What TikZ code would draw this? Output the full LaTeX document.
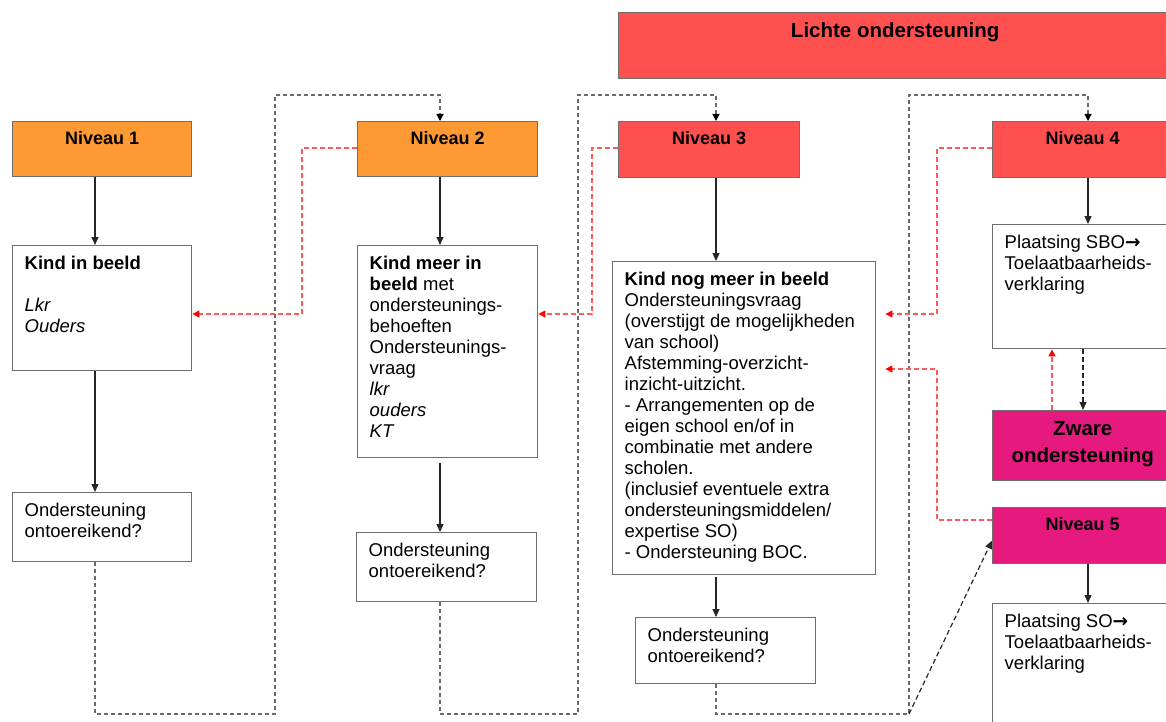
\documentclass[tikz,border=0pt]{standalone}
\usepackage{fontspec}
\setmainfont{Liberation Sans}
\newfontfamily\dejavu{DejaVu Sans}
\usetikzlibrary{arrows.meta}
\definecolor{orng}{HTML}{FF9933}
\definecolor{redb}{HTML}{FF5050}
\definecolor{mag}{HTML}{E6197E}
\definecolor{bord}{HTML}{6E6E6E}
\definecolor{gdash}{HTML}{6A6A6A}
\definecolor{rdash}{HTML}{FF5A5A}
\newcommand{\tbl}[3]{\begin{minipage}[c][#2pt][t]{#1pt}\vspace*{10pt}\raggedright\leftskip=12pt\relax\rule{0pt}{13pt}#3\end{minipage}}
\newcommand{\tbc}[3]{\begin{minipage}[c][#2pt][t]{#1pt}\vspace*{10pt}\centering\rule{0pt}{13pt}#3\end{minipage}}
\newcommand{\tbb}[4]{\begin{minipage}[c][#2pt][t]{#1pt}\vspace*{#4pt}\centering\rule{0pt}{15pt}#3\end{minipage}}
\newcommand{\rarr}{{\dejavu\bfseries →}}
\begin{document}
\begin{tikzpicture}[x=1pt,y=-1pt,
  box/.style={draw=bord, line width=1.4pt, inner sep=0pt, anchor=north west, fill=white, font=\fontsize{18.5}{21}\selectfont},
  lvl/.style={box, font=\fontsize{18}{21}\selectfont\bfseries},
  big/.style={box, font=\fontsize{20.5}{27}\selectfont\bfseries},
  arr/.style={draw=black!85, line width=1.3pt, -{Triangle[length=8pt,width=7pt]}},
  gd/.style={draw=gdash, line width=1.1pt, dash pattern=on 4pt off 3pt},
  gda/.style={gd, -{Triangle[length=7pt,width=7pt,color=black]}},
  bda/.style={draw=black!85, line width=1.2pt, dash pattern=on 5pt off 3pt, -{Triangle[length=8pt,width=7pt]}},
  rd/.style={draw=rdash, line width=1.3pt, dash pattern=on 5pt off 3pt, -{Triangle[length=7pt,width=7pt,color=red]}},
  ]
\useasboundingbox (0,0) rectangle (1166,722);
\clip (0,0) rectangle (1166,722);

% coordinates for routes
\coordinate (c1) at (95,0);
\coordinate (c2) at (440,0);
\coordinate (c3) at (716,0);
\coordinate (c4) at (1088,0);
\coordinate (yt) at (0,95);
\coordinate (yb) at (0,714);
\coordinate (x275) at (275,0);
\coordinate (x578) at (578,0);
\coordinate (x909) at (909,0);
\coordinate (x302) at (302,0);
\coordinate (x592) at (592,0);
\coordinate (x937) at (937,0);
\coordinate (x1052) at (1052,0);
\coordinate (x1083) at (1083,0);
\coordinate (yw) at (0,148);
\coordinate (yr) at (0,314);
\coordinate (yr2) at (0,369);
\coordinate (y520) at (0,520);

% boxes
\node[big, fill=redb] (lichte) at (618,12) {\tbb{553}{66}{Lichte ondersteuning}{10}};

\node[lvl, fill=orng] (n1) at (12,121) {\tbc{179}{55}{Niveau 1}};
\node[box] (kb1) at (12,245) {\tbl{179}{125}{\textbf{Kind in beeld}\\[21pt]\textit{Lkr}\\\textit{Ouders}}};
\node[box] (on1) at (12,492) {\tbl{179}{69}{Ondersteuning\\ontoereikend?}};

\node[lvl, fill=orng] (n2) at (357,121) {\tbc{180}{55}{Niveau 2}};
\node[box] (kb2) at (357,245) {\tbl{180}{212}{\textbf{Kind meer in}\\\textbf{beeld} met\\ondersteunings-\\behoeften\\Ondersteunings-\\vraag\\\textit{lkr}\\\textit{ouders}\\\textit{KT}}};
\node[box] (on2) at (356,532) {\tbl{180}{69}{Ondersteuning\\ontoereikend?}};

\node[lvl, fill=redb] (n3) at (618,121) {\tbc{181}{56}{Niveau 3}};
\node[box] (kb3) at (612,261) {\tbl{263}{313}{\textbf{Kind nog meer in beeld}\\Ondersteuningsvraag\\(overstijgt de mogelijkheden\\van school)\\Afstemming-overzicht-\\inzicht-uitzicht.\\- Arrangementen op de\\\mbox{eigen school en/of in}\\combinatie met andere\\scholen.\\(inclusief eventuele extra\\ondersteuningsmiddelen/\\expertise SO)\\- Ondersteuning BOC.}};
\node[box] (on3) at (635,617) {\tbl{180}{66}{Ondersteuning\\ontoereikend?}};

\node[lvl, fill=redb] (n4) at (992,121) {\tbc{180}{56}{Niveau 4}};
\node[box] (sbo) at (992,224) {\tbl{180}{124}{Plaatsing SBO\rarr\\Toelaatbaarheids-\\verklaring}};
\node[big, fill=mag] (zw) at (992,410) {\tbb{180}{70}{Zware\\ondersteuning}{10}};
\node[lvl, fill=mag] (n5) at (992,507) {\tbc{180}{56}{Niveau 5}};
\node[box] (so) at (992,603) {\tbl{180}{140}{Plaatsing SO\rarr\\Toelaatbaarheids-\\verklaring}};

\coordinate (k3e) at ([xshift=9pt]kb3.east);
\coordinate (n5w) at ([yshift=-5pt]n5.west);

% solid arrows
\draw[arr] (n1.south -| c1) -- (kb1.north -| c1);
\draw[arr] (kb1.south -| c1) -- (on1.north -| c1);
\draw[arr] (n2.south -| c2) -- (kb2.north -| c2);
\draw[arr] ([yshift=-5pt]kb2.south -| c2) -- (on2.north -| c2);
\draw[arr] (n3.south -| c3) -- (kb3.north -| c3);
\draw[arr] ([yshift=-2pt]kb3.south -| c3) -- (on3.north -| c3);
\draw[arr] (n4.south -| c4) -- (sbo.north -| c4);
\draw[arr] (n5.south -| c4) -- (so.north -| c4);

% gray dashed routes
\draw[gda] (on1.south -| c1) -- (c1 |- yb) -- (x275 |- yb) -- (x275 |- yt) -- (c2 |- yt) -- (n2.north -| c2);
\draw[gda] (on2.south -| c2) -- (c2 |- yb) -- (x578 |- yb) -- (x578 |- yt) -- (c3 |- yt) -- (n3.north -| c3);
\draw[gda] (on3.south -| c3) -- (c3 |- yb) -- (x909 |- yb) -- (x909 |- yt) -- (c4 |- yt) -- (n4.north -| c4);
\draw[bda] (x909 |- yb) -- (n5w);
\draw[bda] (sbo.south -| x1083) -- (zw.north -| x1083);

% red dashed
\draw[rd] (n2.west |- yw) -- (x302 |- yw) -- (x302 |- yr) -- (kb1.east |- yr);
\draw[rd] (n3.west |- yw) -- (x592 |- yw) -- (x592 |- yr) -- (kb2.east |- yr);
\draw[rd] (n4.west |- yw) -- (x937 |- yw) -- (x937 |- yr) -- (k3e |- yr);
\draw[rd] (n5.west |- y520) -- (x937 |- y520) -- (x937 |- yr2) -- (k3e |- yr2);
\draw[rd] (zw.north -| x1052) -- (sbo.south -| x1052);
\end{tikzpicture}
\end{document}
